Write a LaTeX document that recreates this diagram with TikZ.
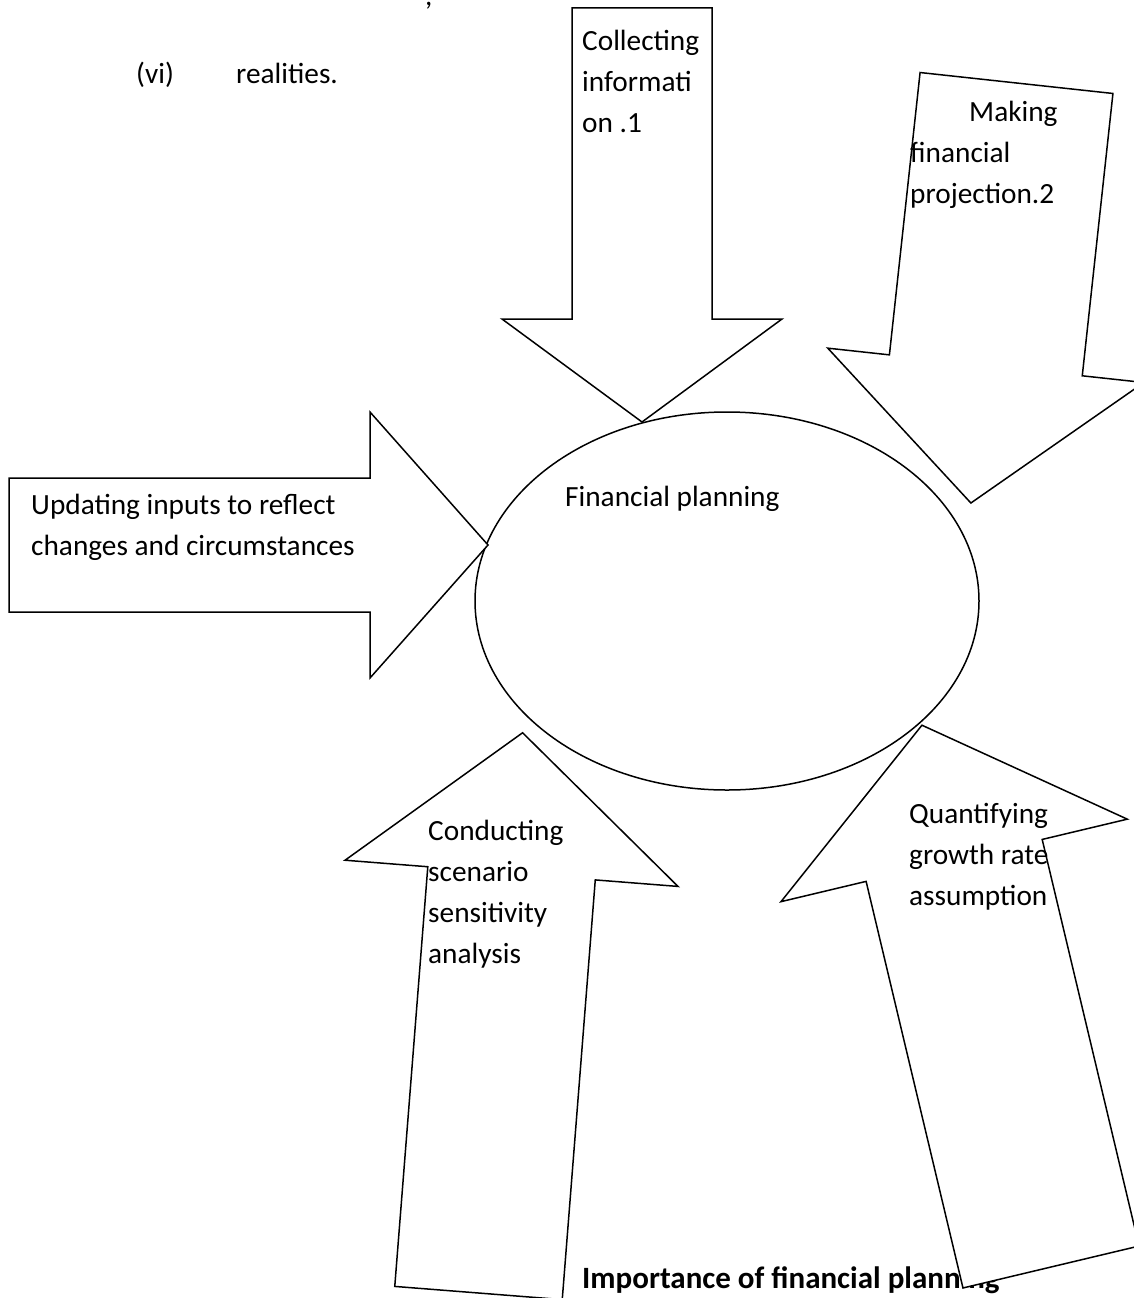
\documentclass[tikz,border=0pt]{standalone}
\usepackage{fontspec}
\setmainfont{Carlito}
\usetikzlibrary{shapes.geometric}
\tikzset{
    arrowbox/.style={draw, fill=white, line width=1.5pt, line join=miter},
    plantext/.style={anchor=base west, align=left, inner sep=0pt, font=\fontsize{29.3}{41}\selectfont},
}
\begin{document}
\begin{tikzpicture}[x=1pt,y=-1pt]
\useasboundingbox (0,0) rectangle (1133,1298);
% page text round the figure
\node[plantext] (cut) at (425,6) {,};
\node[plantext] (item) at (136,84) {(vi)};
\node[plantext] (real) at (236,84) {realities.};
\node[plantext, font=\fontsize{31}{41}\selectfont\bfseries] (title) at (582,1288) {Importance of financial planning};

\node[ellipse, draw, line width=1.5pt, inner sep=0pt, minimum width=504pt, minimum height=378pt] (plan) at (727,601) {};

% block arrows: name/base x/base y/turn/shaft/shoulder/head/length
\foreach \name/\cx/\cy/\rot/\w/\s/\h/\l in {collect/642/8/180/70/311/140/414,
    project/1016.5/83/173.8/97/284/159/422.5,
    update/9/545/-90/67/361/133/479,
    scen/478.5/1293/-4.5/84/421/167/562,
    growth/1051/1267/13.4/90.5/418/178/557}
{
    \begin{scope}[shift={(\cx,\cy)}, rotate=\rot]
    \draw[arrowbox] (-\w,0)--(-\w,-\s)--(-\h,-\s)--(0,-\l)coordinate(\name tip)--(\h,-\s)--(\w,-\s)--(\w,0)--cycle;
    \end{scope}
}

% labels sit on the baseline of their last line
\node[plantext] (collectlabel) at (582,132) {Collecting\\informati\\on .1};
\node[plantext] (projectlabel) at (910,203) {\hspace*{59pt}Making\\financial\\projection.2};
\node[plantext] (updatelabel) at (31,555) {Updating inputs to reflect\\changes and circumstances};
\node[plantext] (planlabel) at (565,506) {Financial planning};
\node[plantext] (scenlabel) at (428,963) {Conducting\\scenario\\sensitivity\\analysis};
\node[plantext] (growthlabel) at (909,905) {Quantifying\\growth rate\\assumption};

\end{tikzpicture}
\end{document}
